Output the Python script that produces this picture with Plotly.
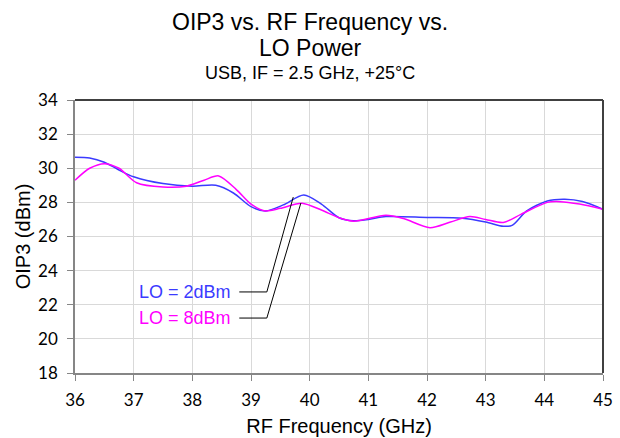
import plotly.graph_objects as go

# Data
freq_lo2 = [36.0, 36.25, 36.5, 36.75, 37.0, 37.5, 38.0, 38.4, 38.7, 39.0, 39.25, 39.55, 39.9,
            40.2, 40.5, 40.75, 41.0, 41.3, 42.0, 42.6, 43.0, 43.3, 43.45, 43.7, 44.05, 44.35,
            44.65, 45.0]
oip3_lo2 = [30.65, 30.6, 30.35, 29.9, 29.5, 29.1, 28.95, 29.0, 28.55, 27.75, 27.5, 27.85, 28.43,
            27.9, 27.1, 26.92, 27.0, 27.17, 27.12, 27.07, 26.85, 26.6, 26.65, 27.5, 28.08, 28.18,
            28.05, 27.6]

freq_lo8 = [36.0, 36.25, 36.5, 36.75, 37.05, 37.5, 37.9, 38.2, 38.45, 38.75, 39.0, 39.25, 39.5,
            39.87, 40.2, 40.5, 40.75, 41.3, 41.6, 42.05, 42.4, 42.73, 43.0, 43.3, 43.6, 44.05,
            44.27, 44.6, 45.0]
oip3_lo8 = [29.3, 30.0, 30.27, 30.0, 29.15, 28.9, 28.95, 29.3, 29.55, 28.75, 27.9, 27.5, 27.65,
            27.95, 27.55, 27.1, 26.9, 27.24, 27.05, 26.52, 26.85, 27.17, 27.0, 26.82, 27.3, 28.0,
            28.04, 27.9, 27.6]

series_names = ["LO = 2dBm", "LO = 8dBm"]
series_colors = ["#3b3bff", "#ff00ff"]

x_ticks = [36, 37, 38, 39, 40, 41, 42, 43, 44, 45]
y_ticks = [18, 20, 22, 24, 26, 28, 30, 32, 34]

fig = go.Figure()
for xs, ys, name, col in [(freq_lo2, oip3_lo2, series_names[0], series_colors[0]),
                          (freq_lo8, oip3_lo8, series_names[1], series_colors[1])]:
    fig.add_trace(go.Scatter(x=xs, y=ys, mode="lines", name=name,
                             line=dict(color=col, width=1.5, shape="spline", smoothing=0.8),
                             showlegend=False))

tick_font = dict(family="Lato, Liberation Sans, Arial", size=17, color="#000000")
lab_font = dict(family="Liberation Sans, Arial", size=20, color="#000000")

fig.update_layout(
    width=620, height=438,
    margin=dict(l=75, r=17, t=100, b=65, autoexpand=False),
    paper_bgcolor="white", plot_bgcolor="white",
    xaxis=dict(range=[36, 45], tickvals=x_ticks, ticks="outside", ticklen=6,
               tickcolor="#868686", showline=True, linecolor="#868686", linewidth=1.5,
               showgrid=True, gridcolor="#d9d9d9", gridwidth=1, zeroline=False,
               tickfont=tick_font, automargin=False, ticklabelstandoff=5,
               title=dict(text="RF Frequency (GHz)", font=lab_font, standoff=10)),
    yaxis=dict(range=[18, 34], tickvals=y_ticks, ticks="outside", ticklen=6,
               tickcolor="#868686", showline=True, linecolor="#868686", linewidth=1.5,
               showgrid=True, gridcolor="#d9d9d9", gridwidth=1, zeroline=False,
               tickfont=tick_font, automargin=False, ticklabelstandoff=6,
               title=dict(text="OIP3 (dBm)", font=lab_font, standoff=2)),
)

# title lines and subtitle (pixel rows converted to paper fractions of the 273px plot height)
title_font = dict(family="Liberation Sans, Arial", size=23, color="#000000")
fig.add_annotation(text="OIP3 vs. RF Frequency vs.", xref="paper", yref="paper",
                   x=(310 - 75) / 528, y=(373 - 22.5) / 273, xanchor="center", yanchor="middle",
                   showarrow=False, font=title_font)
fig.add_annotation(text="LO Power", xref="paper", yref="paper",
                   x=(310 - 75) / 528, y=(373 - 47.5) / 273, xanchor="center", yanchor="middle",
                   showarrow=False, font=title_font)
fig.add_annotation(text="USB, IF = 2.5 GHz, +25°C", xref="paper", yref="paper",
                   x=(310 - 75) / 528, y=(373 - 73) / 273, xanchor="center", yanchor="middle",
                   showarrow=False,
                   font=dict(family="Liberation Sans, Arial", size=18, color="#000000"))

# top and right frame lines
fig.add_shape(type="line", xref="x domain", yref="y domain", x0=0, x1=1, y0=1, y1=1,
              line=dict(color="#404040", width=2))
fig.add_shape(type="line", xref="x domain", yref="y domain", x0=1, x1=1, y0=0, y1=1,
              line=dict(color="#404040", width=2))

# series labels with leader lines
label_y = [22.75, 21.22]
peak_pts = [(39.72, 28.31), (39.85, 27.96)]
for name, col, ly, (px, py) in zip(series_names, series_colors, label_y, peak_pts):
    fig.add_annotation(text=name, x=38.69, y=ly, xref="x", yref="y", xanchor="right",
                       yanchor="middle", showarrow=False,
                       font=dict(family="Liberation Sans, Arial", size=18, color=col))
    fig.add_shape(type="path", xref="x", yref="y",
                  path=f"M 38.8 {ly} L 39.27 {ly} L {px} {py}",
                  line=dict(color="#000000", width=1))

fig.write_html("out.html", config={"displayModeBar": False},
               post_script="document.body.style.margin='0px';")
